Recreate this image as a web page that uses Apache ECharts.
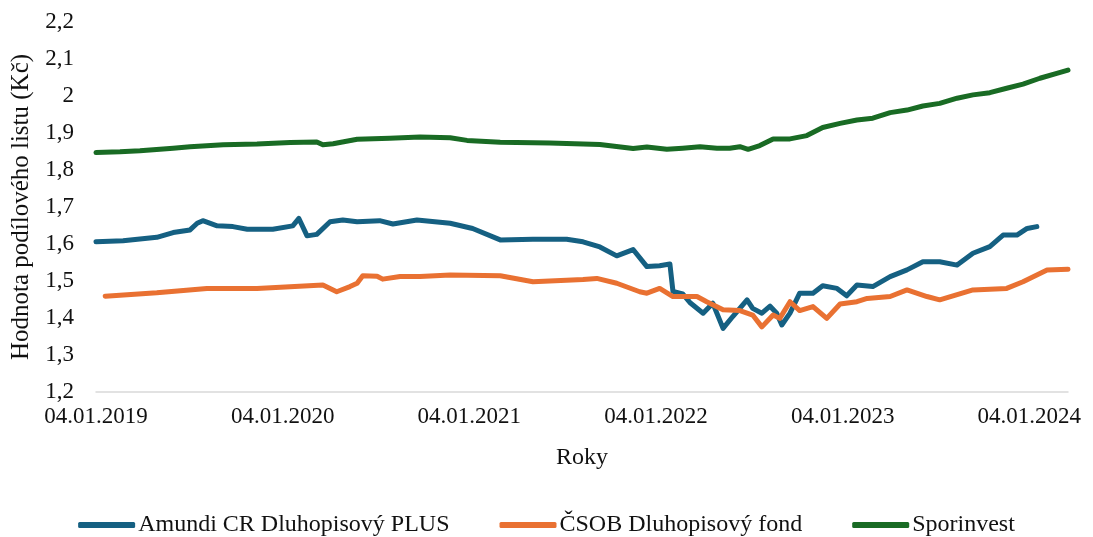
<!DOCTYPE html>
<html>
<head>
<meta charset="utf-8">
<script src="https://cdn.jsdelivr.net/npm/echarts@6/dist/echarts.min.js"></script>
<style>
html,body{margin:0;padding:0;background:#fff;}
#chart{width:1093px;height:537px;}
</style>
</head>
<body>
<div id="chart"></div>
<script>
// ---- data ----
const seriesNames = ['Amundi CR Dluhopisový PLUS', 'ČSOB Dluhopisový fond', 'Sporinvest'];
const startDate = '2019-01-04';
const endDate = '2024-03-20';
const yTicks = [1.2, 1.3, 1.4, 1.5, 1.6, 1.7, 1.8, 1.9, 2.0, 2.1, 2.2];
const xTickLabels = ['04.01.2019', '04.01.2020', '04.01.2021', '04.01.2022', '04.01.2023', '04.01.2024'];

const amundiDates = ['2019-01-04','2019-02-26','2019-05-03','2019-06-04','2019-07-07','2019-07-21','2019-08-01','2019-08-29','2019-09-29','2019-10-27','2019-12-16','2020-01-24','2020-02-05','2020-02-21','2020-03-11','2020-04-06','2020-05-01','2020-05-29','2020-07-12','2020-08-07','2020-09-23','2020-11-27','2021-01-10','2021-03-05','2021-05-08','2021-07-13','2021-08-14','2021-09-16','2021-10-19','2021-11-20','2021-12-17','2022-01-11','2022-01-31','2022-02-06','2022-02-25','2022-03-11','2022-04-06','2022-04-25','2022-05-15','2022-06-03','2022-07-01','2022-07-12','2022-07-30','2022-08-15','2022-08-28','2022-09-07','2022-09-23','2022-10-12','2022-11-07','2022-11-26','2022-12-24','2023-01-12','2023-02-01','2023-03-04','2023-04-07','2023-05-10','2023-06-10','2023-07-13','2023-08-16','2023-09-16','2023-10-19','2023-11-14','2023-12-11','2023-12-31','2024-01-19'];
const amundiValues = [1.606,1.609,1.618,1.631,1.638,1.656,1.663,1.649,1.647,1.640,1.640,1.649,1.669,1.622,1.626,1.660,1.665,1.660,1.663,1.654,1.665,1.656,1.642,1.611,1.613,1.613,1.606,1.592,1.568,1.585,1.539,1.541,1.546,1.472,1.465,1.442,1.413,1.440,1.372,1.404,1.449,1.426,1.413,1.432,1.413,1.381,1.413,1.467,1.467,1.487,1.480,1.460,1.489,1.485,1.512,1.530,1.552,1.552,1.543,1.575,1.593,1.624,1.624,1.642,1.647];

const csobDates = ['2019-01-22','2019-05-03','2019-08-09','2019-11-15','2020-03-23','2020-04-19','2020-05-15','2020-05-29','2020-06-09','2020-07-07','2020-07-18','2020-08-21','2020-09-29','2020-11-27','2021-03-05','2021-05-08','2021-08-14','2021-09-10','2021-10-19','2021-12-03','2021-12-17','2022-01-11','2022-02-06','2022-03-25','2022-04-13','2022-05-15','2022-06-17','2022-07-12','2022-07-30','2022-08-21','2022-09-03','2022-09-23','2022-10-12','2022-11-07','2022-12-04','2022-12-30','2023-02-01','2023-02-21','2023-04-07','2023-05-10','2023-06-18','2023-07-13','2023-09-16','2023-11-21','2023-12-23','2024-02-08','2024-03-20'];
const csobValues = [1.459,1.468,1.480,1.480,1.489,1.471,1.485,1.494,1.514,1.513,1.505,1.512,1.512,1.516,1.514,1.498,1.504,1.507,1.494,1.471,1.467,1.480,1.458,1.458,1.444,1.422,1.420,1.408,1.376,1.408,1.399,1.444,1.420,1.431,1.399,1.438,1.444,1.453,1.458,1.476,1.458,1.449,1.476,1.480,1.498,1.530,1.532];

const sporDates = ['2019-01-04','2019-02-20','2019-03-31','2019-06-04','2019-07-07','2019-09-10','2019-11-15','2020-01-19','2020-03-11','2020-03-23','2020-04-12','2020-05-29','2020-08-01','2020-09-29','2020-11-27','2020-12-30','2021-03-05','2021-06-10','2021-09-16','2021-11-20','2021-12-17','2022-01-25','2022-02-25','2022-03-31','2022-05-03','2022-05-28','2022-06-17','2022-07-03','2022-07-26','2022-08-21','2022-09-23','2022-10-26','2022-11-26','2022-12-30','2023-02-01','2023-03-04','2023-04-07','2023-05-10','2023-06-10','2023-07-13','2023-08-16','2023-09-16','2023-10-19','2023-11-21','2023-12-23','2024-01-25','2024-02-27','2024-03-20'];
const sporValues = [1.847,1.849,1.852,1.859,1.863,1.868,1.870,1.874,1.876,1.868,1.871,1.883,1.886,1.889,1.887,1.880,1.875,1.873,1.869,1.858,1.862,1.856,1.859,1.863,1.859,1.859,1.863,1.856,1.866,1.884,1.884,1.893,1.915,1.926,1.935,1.940,1.955,1.962,1.973,1.980,1.994,2.003,2.009,2.021,2.032,2.048,2.061,2.070];

const colors = ['#156082', '#E97132', '#196B24'];

// ---- build ----
const DAY = 86400000;
const t0 = Date.parse(startDate);
function yrs(d) { return (Date.parse(d) - t0) / (365.25 * DAY); }
function pairs(ds, vs) { return ds.map((d, i) => [yrs(d), vs[i]]); }

const FONT = "'Liberation Serif', 'Times New Roman', serif";
const chart = echarts.init(document.getElementById('chart'));
const mk = (name, ds, vs, c) => ({
  name, type: 'line', data: pairs(ds, vs), showSymbol: false, symbol: 'none',
  lineStyle: { color: c, width: 5, cap: 'round', join: 'round' },
  itemStyle: { color: c }, animation: false
});
chart.setOption({
  animation: false,
  grid: { left: 96, right: 25, top: 22, bottom: 145, containLabel: false },
  xAxis: {
    type: 'value', min: 0, max: yrs(endDate), interval: 1,
    name: 'Roky', nameLocation: 'middle', nameGap: 54,
    nameTextStyle: { fontFamily: FONT, fontSize: 24, color: '#111' },
    axisLine: { show: true, lineStyle: { color: '#d9d9d9', width: 1.5 } },
    axisTick: { show: false }, splitLine: { show: false },
    axisLabel: {
      fontFamily: FONT, fontSize: 23, color: '#111', margin: 13, showMaxLabel: false,
      formatter: v => { const i = Math.round(v); return Math.abs(v - i) < 1e-6 && xTickLabels[i] ? xTickLabels[i] : ''; }
    }
  },
  yAxis: {
    type: 'value', min: yTicks[0], max: yTicks[yTicks.length - 1], interval: 0.1,
    name: 'Hodnota podílového listu (Kč)', nameLocation: 'middle', nameGap: 60, nameRotate: 90,
    nameTextStyle: { fontFamily: FONT, fontSize: 25, color: '#111' },
    axisLine: { show: false }, axisTick: { show: false }, splitLine: { show: false },
    axisLabel: {
      fontFamily: FONT, fontSize: 23, color: '#111', margin: 22,
      formatter: v => String(parseFloat(v.toFixed(1))).replace('.', ',')
    }
  },
  legend: {
    bottom: 0, padding: 0, left: 'center', itemWidth: 57, itemHeight: 6, itemGap: 50, icon: 'roundRect',
    textStyle: { fontFamily: FONT, fontSize: 24, color: '#111', padding: [0, 0, 0, -2] },
    data: seriesNames
  },
  series: [
    mk(seriesNames[0], amundiDates, amundiValues, colors[0]),
    mk(seriesNames[1], csobDates, csobValues, colors[1]),
    mk(seriesNames[2], sporDates, sporValues, colors[2])
  ]
});
</script>
</body>
</html>
